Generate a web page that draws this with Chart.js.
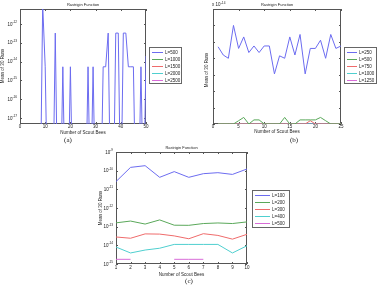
<!DOCTYPE html>
<html>
<head>
<meta charset="utf-8">
<script src="https://cdn.jsdelivr.net/npm/chart.js@4.4.1/dist/chart.umd.min.js"></script>
<style>
  body { margin: 0; background: #fff; }
  #wrap { position: relative; width: 390px; height: 285px; }
  canvas { position: absolute; left: 0; top: 0; }
</style>
</head>
<body>
<div id="wrap">
  <canvas id="chartA" width="390" height="285"></canvas>
  <canvas id="chartB" width="390" height="285"></canvas>
  <canvas id="chartC" width="390" height="285"></canvas>
</div>
<script>
// ---- data (a): log axis, scout bees 1..50
const beesA = [1,2,3,4,5,6,7,8,9,10,11,12,13,14,15,16,17,18,19,20,21,22,23,24,25,
               26,27,28,29,30,31,32,33,34,35,36,37,38,39,40,41,42,43,44,45,46,47,48,49,50];
const labelsA = ["L=500", "L=1000", "L=1500", "L=2000", "L=2500"];
const l500A = [0,0,0,0,0,0,0,0,1.1e-11,5.3e-15,0,0,0,3.3e-13,0,0,5.3e-15,0,0,5.3e-15,
               0,0,0,0,0,0,5.3e-15,0,5.3e-15,0,0,0,5.3e-15,5.3e-15,3.3e-13,0,0,3.3e-13,3.3e-13,0,
               3.3e-13,3.3e-13,5.3e-15,5.3e-15,5.3e-15,0,0,5.3e-15,0,2e-14];
// the other runs never show on the log axis
const l1000A = [];
const l1500A = [];
const l2000A = [];
const l2500A = [];
const yTicksA = [1e-17, 1e-16, 1e-15, 1e-14, 1e-13, 1e-12];

// ---- data (b): linear axis in units of 1e-14, scout bees 1..25
const beesB = [1,2,3,4,5,6,7,8,9,10,11,12,13,14,15,16,17,18,19,20,21,22,23,24,25];
const labelsB = ["L=250", "L=500", "L=750", "L=1000", "L=1250"];
const l250B = [4.7,4.2,4.0,6.0,4.6,5.3,4.35,4.75,4.35,4.75,4.75,3.05,4.15,4.0,5.3,
               4.2,5.45,3.05,4.6,4.6,5.1,4.0,5.45,4.6,4.75];
const l500B = [0,0,0,0,0.2,0.4,0,0.25,0.25,0,0,0,0,0.4,0,0,0.25,0.25,0.25,0.25,0.4,0.2,0,0,0];
const l750B = [0,0,0,0,0,0,0,0,0,0,0,0,0,0,0,0,0,0,0.2,0,0,0,0,0,0];
const l1000B = [0,0,0,0,0,0,0,0,0,0,0,0,0,0,0,0,0,0,0,0,0,0,0,0,0];
const l1250B = [0,0,0,0,0,0,0,0,0,0,0,0,0,0,0,0,0,0,0,0,0,0,0,0,0];

// ---- data (c): log axis, scout bees 1..10
const beesC = [1,2,3,4,5,6,7,8,9,10];
const labelsC = ["L=100", "L=200", "L=300", "L=400", "L=500"];
const l100C = [2.6e-11,1.5e-10,1.85e-10,4.4e-11,8.9e-11,4.4e-11,6.9e-11,7.8e-11,6.3e-11,1.23e-10];
const l200C = [1.6e-13,2.0e-13,1.38e-13,2.3e-13,1.2e-13,1.18e-13,1.47e-13,1.58e-13,1.47e-13,1.8e-13];
const l300C = [2.8e-14,2.4e-14,4.1e-14,4.0e-14,3.2e-14,2.25e-14,4.2e-14,3.4e-14,2.15e-14,3.9e-14];
const l400C = [8.1e-15,3.9e-15,5.6e-15,7.0e-15,1.12e-14,1.12e-14,1.12e-14,1.12e-14,3.9e-15,9.5e-15];
const l500C = [1.78e-15,1.78e-15,null,null,1.78e-15,1.78e-15,1.78e-15,null,null,null];
const yTicksC = [1e-15, 1e-14, 1e-13, 1e-12, 1e-11, 1e-10, 1e-9];

const FONT = '"Liberation Sans", Arial, Helvetica, sans-serif';
const SERIF = '"Liberation Serif", "Times New Roman", serif';
Chart.defaults.font.family = FONT;
Chart.defaults.color = "#222";

const lineColors = ["#6c6cf0", "#5aa85a", "#ef6b6b", "#4fcfcf", "#d86cd8"];

// on a log axis a zero can't be placed, so it is pushed far below the
// visible range (like the original plot, the line just runs off the bottom)
function series(labels, values, xs, zeroAt) {
    return values.map((vals, i) => ({
        label: labels[i],
        data: vals.map((v, j) => ({ x: xs[j], y: v === 0 && zeroAt ? zeroAt : v })),
        borderColor: lineColors[i],
        borderWidth: 1,
        pointRadius: 0,
        fill: false,
    }));
}

// matlab-ish box, inward ticks, labels, legend
const matlabBox = {
    id: "matlabBox",
    beforeDatasetsDraw(chart, args, o) {
        const { ctx, chartArea: a, scales } = chart;
        ctx.save();
        ctx.strokeStyle = "#555";
        ctx.lineWidth = 1;
        ctx.strokeRect(a.left + 0.5, a.top + 0.5, a.right - a.left - 1, a.bottom - a.top - 1);
        ctx.beginPath();
        scales.x.ticks.forEach((t) => {
            const px = Math.round(scales.x.getPixelForValue(t.value)) + 0.5;
            ctx.moveTo(px, a.bottom); ctx.lineTo(px, a.bottom - 2);
            ctx.moveTo(px, a.top); ctx.lineTo(px, a.top + 2);
        });
        scales.y.ticks.forEach((t) => {
            const py = Math.round(scales.y.getPixelForValue(t.value)) + 0.5;
            ctx.moveTo(a.left, py); ctx.lineTo(a.left + 2, py);
            ctx.moveTo(a.right, py); ctx.lineTo(a.right - 2, py);
        });
        ctx.stroke();
        ctx.restore();
    },
    afterDraw(chart, args, o) {
        const { ctx, chartArea: a, scales } = chart;
        const cx = (a.left + a.right) / 2;
        ctx.save();
        ctx.fillStyle = "#222";
        ctx.textAlign = "center";
        ctx.textBaseline = "middle";
        ctx.font = "4px " + FONT;
        ctx.fillText("Rastrigin Function", cx, a.top - 4);
        ctx.font = "4.5px " + FONT;
        ctx.fillText("Number of Scout Bees", cx, o.xlabelY);
        // x tick labels
        scales.x.ticks.forEach((t) => {
            ctx.fillText(String(t.value), scales.x.getPixelForValue(t.value), a.bottom + o.xTickOff);
        });
        ctx.save();
        ctx.translate(o.ylabelX, o.ylabelY);
        ctx.rotate(-Math.PI / 2);
        ctx.fillText("Mean of 30 Runs", 0, 0);
        ctx.restore();
        ctx.font = "7px " + SERIF;
        ctx.fillText(o.caption, o.captionX, o.captionY);

        // 10^n tick labels on log axes
        if (scales.y.type === "logarithmic") {
            ctx.textAlign = "right";
            scales.y.ticks.forEach((t) => {
                const py = scales.y.getPixelForValue(t.value);
                const e = String(Math.round(Math.log10(t.value)));
                ctx.font = "3.2px " + FONT;
                const ew = ctx.measureText(e).width;
                ctx.fillText(e, a.left - 3, py - 2);
                ctx.font = "4.5px " + FONT;
                ctx.fillText("10", a.left - 3 - ew, py + 0.3);
            });
        }
        if (o.multiplier) {
            ctx.textAlign = "left";
            ctx.font = "4.5px " + FONT;
            ctx.fillText("x 10", a.left - 1, a.top - 4);
            const w = ctx.measureText("x 10").width;
            ctx.font = "3.2px " + FONT;
            ctx.fillText(o.multiplier, a.left - 1 + w + 0.3, a.top - 6);
        }

        // legend box
        const L = o.legend;
        ctx.fillStyle = "#fff";
        ctx.fillRect(L.x, L.y, L.w, L.h);
        ctx.strokeStyle = "#666";
        ctx.lineWidth = 1;
        ctx.strokeRect(L.x + 0.5, L.y + 0.5, L.w, L.h);
        ctx.textAlign = "left";
        ctx.font = "4.5px " + FONT;
        chart.data.datasets.forEach((ds, i) => {
            const y = L.y + 5.5 + i * 7;
            ctx.strokeStyle = ds.borderColor;
            ctx.beginPath();
            ctx.moveTo(L.x + 3, y);
            ctx.lineTo(L.x + 3 + L.line, y);
            ctx.stroke();
            ctx.fillStyle = "#222";
            ctx.fillText(ds.label, L.x + 5 + L.line, y);
        });
        ctx.restore();
    },
};

function makeChart(id, datasets, box, xAxis, yAxis, extra) {
    return new Chart(document.getElementById(id), {
        type: "line",
        data: { datasets: datasets },
        options: {
            responsive: false,
            animation: false,
            layout: {
                padding: { left: box.left, top: box.top, right: 390 - box.right, bottom: 285 - box.bottom },
            },
            scales: {
                x: Object.assign({
                    type: "linear",
                    grid: { display: false },
                    border: { display: false },
                    afterFit: (s) => { s.height = 0; },
                }, xAxis),
                y: Object.assign({
                    grid: { display: false },
                    border: { display: false },
                    afterFit: (s) => { s.width = 0; },
                }, yAxis),
            },
            plugins: {
                legend: { display: false },
                tooltip: { enabled: false },
                matlabBox: extra,
            },
        },
        plugins: [matlabBox],
    });
}

makeChart("chartA",
    series(labelsA, [l500A, l1000A, l1500A, l2000A, l2500A], beesA, 1e-22),
    { left: 20, top: 9, right: 146, bottom: 124 },
    { min: 0, max: 50, ticks: { stepSize: 10, display: false } },
    {
        type: "logarithmic",
        min: Math.pow(10, -17.32),
        max: Math.pow(10, -11.2),
        ticks: { display: false },
        afterBuildTicks: (s) => { s.ticks = yTicksA.map((v) => ({ value: v })); },
    },
    {
        xTickOff: 3, xlabelY: 132.3, ylabelX: 2.5, ylabelY: 66,
        caption: "(a)", captionX: 68, captionY: 140,
        legend: { x: 149, y: 47, w: 32, h: 36, line: 11 },
    }
);

makeChart("chartB",
    series(labelsB, [l250B, l500B, l750B, l1000B, l1250B], beesB),
    { left: 213, top: 9, right: 341, bottom: 124 },
    { min: 0, max: 25, ticks: { stepSize: 5, display: false } },
    {
        type: "linear",
        min: 0,
        max: 7,
        ticks: { stepSize: 1, font: { size: 4.5 }, padding: 2 },
    },
    {
        xTickOff: 3, xlabelY: 132, ylabelX: 206.5, ylabelY: 70,
        caption: "(b)", captionX: 294, captionY: 140,
        multiplier: "-14",
        legend: { x: 344, y: 47, w: 32, h: 36, line: 10 },
    }
);

makeChart("chartC",
    series(labelsC, [l100C, l200C, l300C, l400C, l500C], beesC),
    { left: 116, top: 152, right: 247, bottom: 264 },
    { min: 1, max: 10, ticks: { stepSize: 1, display: false } },
    {
        type: "logarithmic",
        min: 1e-15,
        max: 1e-9,
        ticks: { display: false },
        afterBuildTicks: (s) => { s.ticks = yTicksC.map((v) => ({ value: v })); },
    },
    {
        xTickOff: 3.6, xlabelY: 275, ylabelX: 101, ylabelY: 208,
        caption: "(c)", captionX: 189, captionY: 281,
        legend: { x: 252, y: 190, w: 37, h: 37, line: 15 },
    }
);
</script>
</body>
</html>
